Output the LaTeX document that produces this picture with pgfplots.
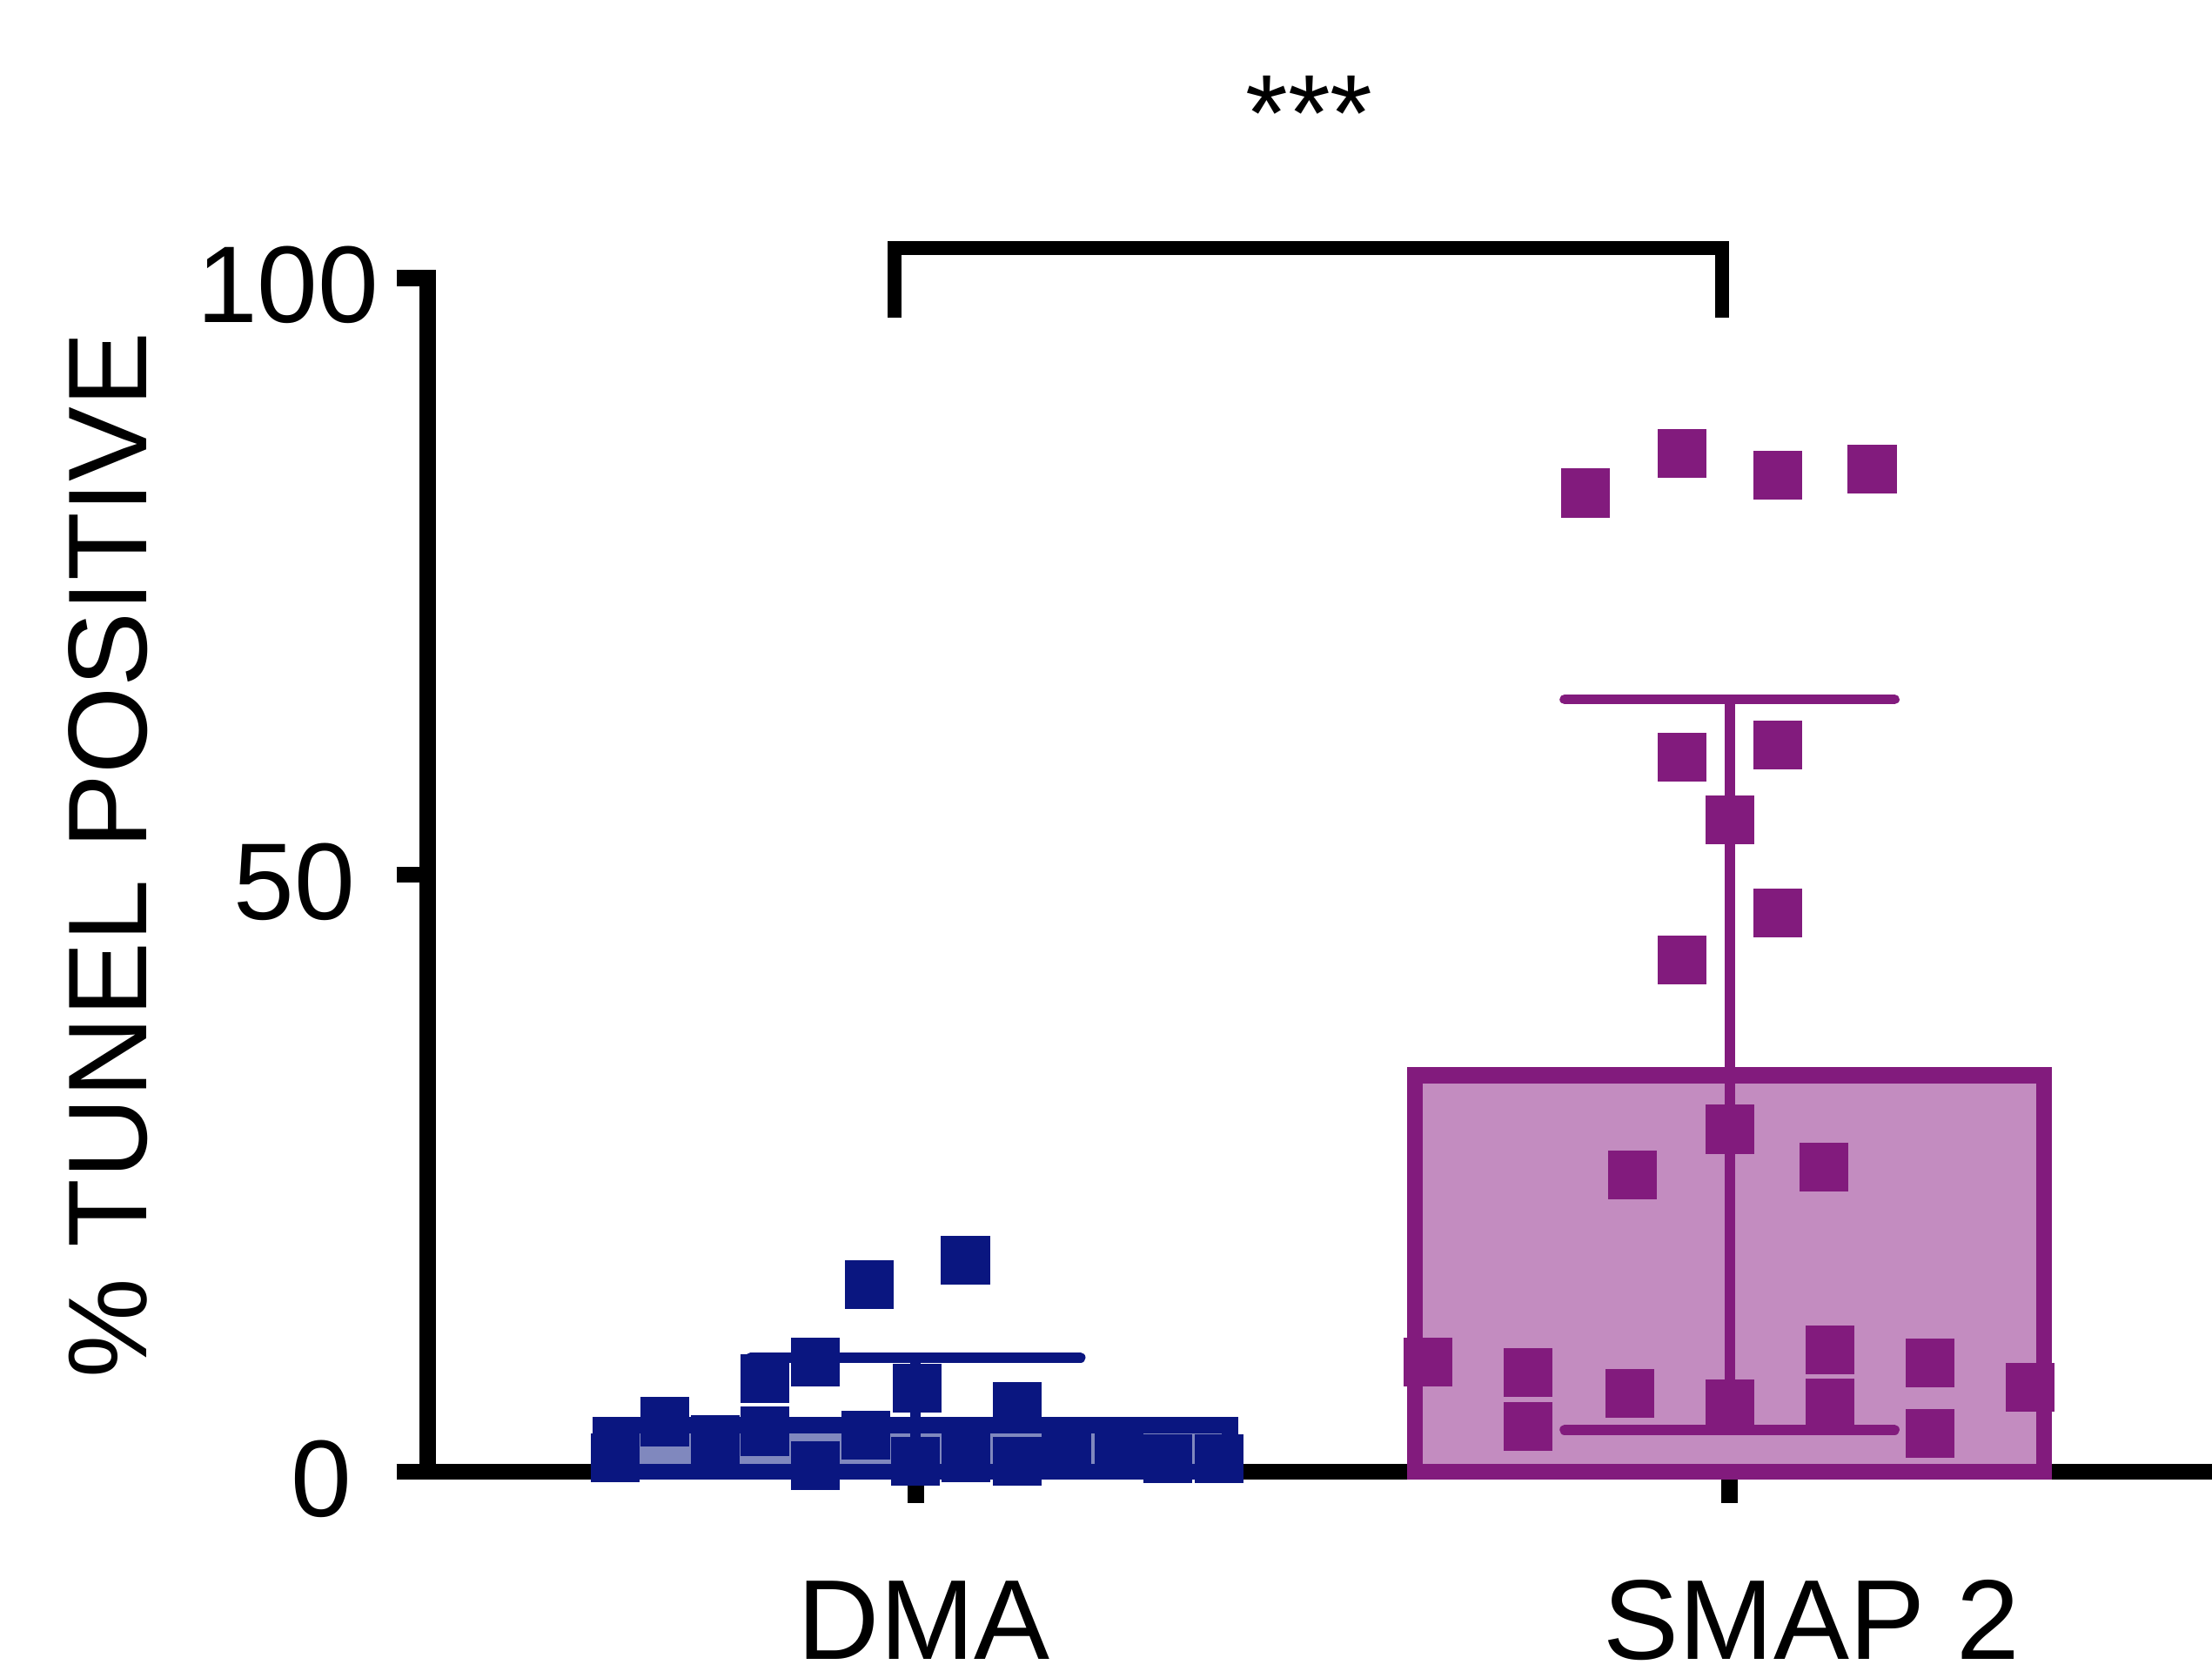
\documentclass[border=0pt]{standalone}
\usepackage{pgfplots}
\pgfplotsset{compat=1.18}
\usepackage{fontspec}
\setmainfont{Liberation Sans}
\definecolor{dmablue}{HTML}{0A1680}
\definecolor{dmafill}{HTML}{8088BE}
\definecolor{smappurple}{HTML}{821B7D}
\definecolor{smapfill}{HTML}{C38CC0}
\newcommand{\lblfont}{\fontsize{22}{26}\selectfont}

\begin{document}
\begin{tikzpicture}
\begin{axis}[
    name=ax,
    width=126.5mm, height=84.6mm, scale only axis,
    xmin=-0.5997, xmax=1.5927, ymin=0, ymax=100,
    axis x line*=bottom, axis y line*=left,
    axis line style={line width=1.15mm, line cap=rect, -},
    tick style={line width=1.15mm, black},
    tick align=outside, major tick length=2.2mm,
    xtick={0,1},
    xticklabels={{\hspace*{1.2mm}DMA}, {\hspace*{11.6mm}SMAP 2}},
    ytick={0,50,100},
    yticklabels={{0\hspace*{1.9mm}}, {50\hspace*{1.7mm}}, {100}},
    tick label style={font=\lblfont},
    xticklabel style={font=\fontsize{22.9}{27}\selectfont, anchor=base, yshift=-11.1mm},
    yticklabel style={yshift=-0.5mm},
    ylabel={\% TUNEL POSITIVE},
    ylabel style={font=\fontsize{22.6}{27}\selectfont, at={(axis description cs:-0.1573,0.5165)}, anchor=base},
    clip=false,
]
% bars (mean)
\addplot[ybar, bar width=44.6mm, draw=dmablue, fill=dmafill, line width=1.15mm]
    coordinates {(0,3.9)};
\addplot[ybar, bar width=44.6mm, draw=smappurple, fill=smapfill, line width=1.15mm]
    coordinates {(1,33.2)};

% SD error bars
\addplot[draw=none, mark=none, error bars/.cd, y dir=both, y explicit,
    error bar style={draw=dmablue, line width=0.75mm},
    error mark options={rotate=90, draw=dmablue, line width=0.7mm, mark size=11.7mm, line cap=round}]
    coordinates {(0,4.75) +- (0,4.8)};
\addplot[draw=none, mark=none, error bars/.cd, y dir=both, y explicit,
    error bar style={draw=smappurple, line width=0.75mm},
    error mark options={rotate=90, draw=smappurple, line width=0.7mm, mark size=11.7mm, line cap=round}]
    coordinates {(1,34.1) +- (0,30.6)};

% individual values
\addplot[only marks, mark=square*, mark size=1.7mm,
    mark options={fill=dmablue, draw=dmablue, line width=0.1pt}]
    coordinates {
    (-0.057,15.7) (0.061,17.7) (-0.123,9.2) (-0.185,7.8) (0.002,7.0)
    (0.125,5.5) (-0.308,4.2) (-0.185,3.4) (-0.246,2.7) (-0.061,3.1)
    (-0.369,1.2) (-0.123,0.5) (0.0,0.9) (0.125,0.9) (0.062,1.2)
    (0.185,1.4) (0.250,1.7) (0.310,1.1) (0.373,1.1)
    };
\addplot[only marks, mark=square*, mark size=1.7mm,
    mark options={fill=smappurple, draw=smappurple, line width=0.1pt}]
    coordinates {
    (0.823,82.0) (0.941,85.3) (1.059,83.5) (1.175,84.0)
    (0.941,59.9) (1.059,60.9) (1.0,54.6) (1.059,46.8) (0.941,42.9)
    (1.0,28.7) (0.880,24.9) (1.116,25.5)
    (0.629,9.2) (0.752,8.3) (0.752,3.8) (0.877,6.6) (1.0,5.7)
    (1.123,10.2) (1.123,5.8) (1.246,9.1) (1.246,3.2) (1.369,7.1)
    };

% significance bracket
\draw[line width=1mm] (axis cs:-0.026,96.7) -- (axis cs:-0.026,102.5)
    -- (axis cs:0.991,102.5) -- (axis cs:0.991,96.7);
\node[font=\lblfont, anchor=base] at (axis cs:0.4835,110.6) {***};
\end{axis}
\pgfresetboundingbox
\path[use as bounding box] ([xshift=-30.3mm,yshift=-14.6mm]ax.south west)
    rectangle ++(156.8mm,118.9mm);
\end{tikzpicture}
\end{document}
